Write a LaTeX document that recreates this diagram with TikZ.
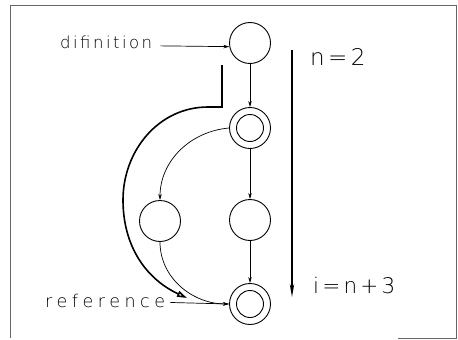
\documentclass[tikz,border=0pt]{standalone}
\usepackage{fontspec}
\newfontfamily\plotfont[LetterSpace=15]{DejaVu Sans ExtraLight}
\newfontfamily\plotwide[LetterSpace=26]{DejaVu Sans ExtraLight}
\usetikzlibrary{arrows.meta}

\begin{document}
\begin{tikzpicture}[
        x=1pt, y=-1pt,
        >={Stealth[length=6pt, width=3.5pt]},
        % 状态圆圈 (单圈 / 双圈)
        state/.style={circle, draw=black, line width=0.9pt, minimum size=41pt, inner sep=0pt},
        dstate/.style={state, path picture={\draw[line width=0.9pt] (path picture bounding box.center) circle (13.5pt);}},
        % 标签文字
        side_lbl/.style={anchor=base west, inner sep=3pt, font=\plotfont\fontsize{16.5}{16.5}\selectfont},
        ref_lbl/.style={anchor=base west, inner sep=3pt, font=\plotwide\fontsize{17.5}{17.5}\selectfont},
        big_lbl/.style={anchor=base west, inner sep=0pt},
        arrow/.style={->, line width=0.7pt},
        ref_arc/.style={-{Triangle[open, length=10pt, width=6pt]}, line width=1.6pt},
        order_arrow/.style={-{Stealth[length=13pt, width=4.5pt]}, line width=1.3pt},
        frame/.style={draw=black!60, line width=0.6pt}
    ]

    \useasboundingbox (0,0) rectangle (458,340);

    % ==========================================
    % 1. 外框 (底边只剩右段)
    % ==========================================
    \draw[frame] (10,338) -- (10,5) -- (456,5) -- (456,338) -- (398,338);

    % ==========================================
    % 2. 状态节点
    % ==========================================
    \node[state]  (def)   at (250,43)  {};
    \node[dstate] (mid)   at (250,128) {};
    \node[state]  (left)  at (160,221) {};
    \node[state]  (right) at (250,220) {};
    \node[dstate] (use)   at (250,304) {};

    % --- 标签 ---
    \node[side_lbl] (def_lbl) at (57,48)  {difinition};
    \node[ref_lbl]  (ref_lbl) at (42,307) {reference};
    \node[big_lbl, font=\plotfont\fontsize{23}{23}\selectfont] (n_lbl) at (310,65)  {n=2};
    \node[big_lbl, font=\plotfont\fontsize{21.5}{21.5}\selectfont] (i_lbl) at (313,293) {i=n+3};

    % 自由端点
    \coordinate (arc_top) at (222,65);
    \coordinate (arc_end) at (187,298);
    \coordinate (ord_top) at (292,50);
    \coordinate (ord_bot) at (292,297);

    % ==========================================
    % 3. 连线
    % ==========================================
    \draw[arrow] ([xshift=5pt, yshift=-4pt]def_lbl.east) -- (def.190);
    \draw[arrow] ([xshift=2pt, yshift=-2pt]ref_lbl.east) -- (use.west);

    % --- 主干 ---
    \draw[arrow] (def.south) -- (mid.north);
    \draw[arrow] (mid.south) -- (right.north);
    \draw[arrow] (right.south) -- (use.north);

    % --- 左侧分支 ---
    \draw[arrow] (mid.west) to[out=185, in=90] (left.north);
    \draw[arrow] (left.south) to[out=-90, in=180] (use.west);

    % --- 粗弧线 ---
    \draw[ref_arc] (arc_top) -- ++(0,42) -- ++(-14,0)
        to[out=180, in=90] (123,200) to[out=-90, in=155] (arc_end);

    % --- 右侧顺序箭头 ---
    \draw[order_arrow] (ord_top) -- (ord_bot);

\end{tikzpicture}
\end{document}
